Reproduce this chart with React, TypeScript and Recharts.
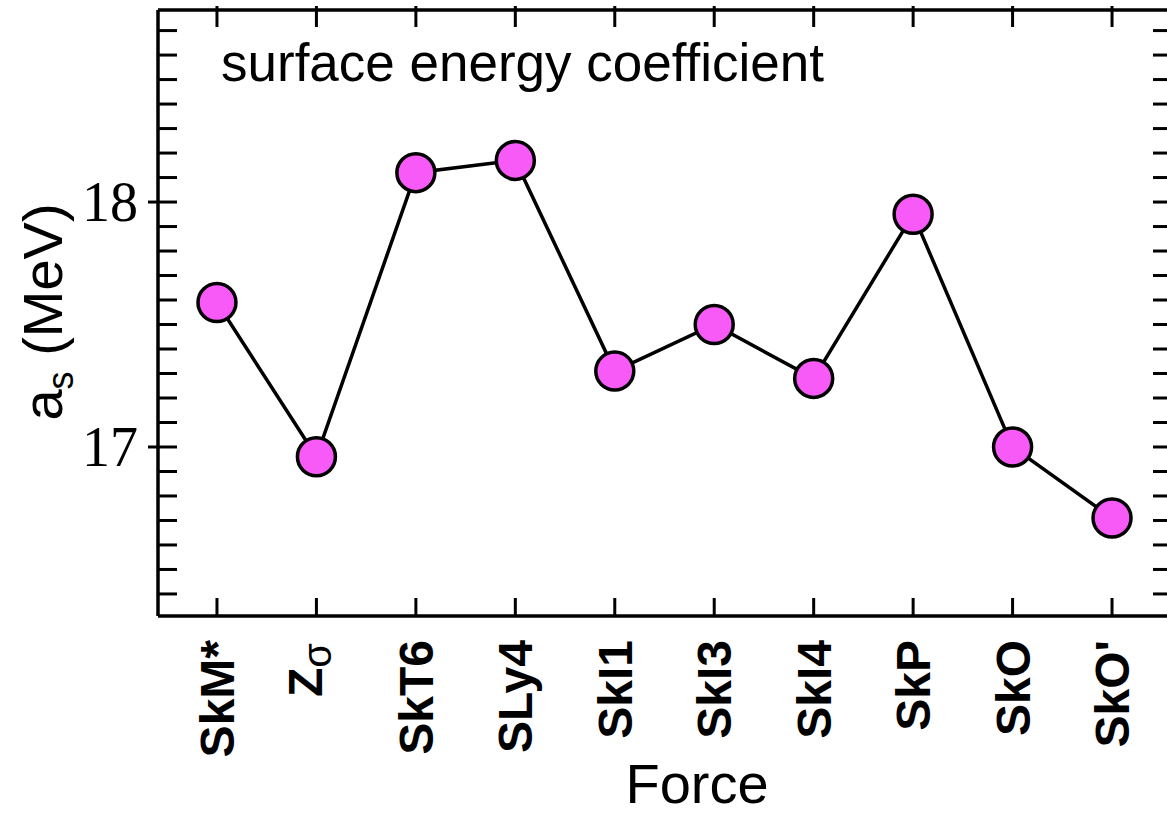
import React from "react";
import { LineChart, Line, XAxis, YAxis } from "recharts";

const forces = ["SkM*", "Zσ", "SkT6", "SLy4", "SkI1", "SkI3", "SkI4", "SkP", "SkO", "SkO'"];
const surfaceEnergy = [17.59, 16.96, 18.12, 18.17, 17.31, 17.5, 17.28, 17.95, 17.0, 16.71];
const xTicks = [0, 1, 2, 3, 4, 5, 6, 7, 8, 9];
const yTicks = [
  16.4, 16.5, 16.6, 16.7, 16.8, 16.9, 17, 17.1, 17.2, 17.3, 17.4, 17.5,
  17.6, 17.7, 17.8, 17.9, 18, 18.1, 18.2, 18.3, 18.4, 18.5, 18.6, 18.7,
];
const yLabels = [17, 18];

const data = forces.map((name, i) => ({ i, name, as: surfaceEnergy[i] }));

const sans = "'Liberation Sans', Arial, Helvetica, sans-serif";
const serif = "'Liberation Serif', 'Times New Roman', serif";

const BottomTick = (props: any) => {
  const { x, y, payload } = props;
  const name = forces[payload.value];
  return (
    <g>
      <line x1={x} y1={y} x2={x} y2={y - 18} stroke="#000" strokeWidth={3} />
      {name === "Zσ" ? (
        <text
          transform={`translate(${x + 6},${y + 27}) rotate(-90)`}
          textAnchor="end"
          fontFamily={sans}
          fontSize={48}
          fill="#000"
        >
          <tspan fontWeight="bold">Z</tspan>
          <tspan fontSize={40} dy={9}>σ</tspan>
        </text>
      ) : (
        <text
          transform={`translate(${x + 17},${y + 24}) rotate(-90)`}
          textAnchor="end"
          fontFamily={sans}
          fontWeight="bold"
          fontSize={48}
          fill="#000"
        >
          {name}
        </text>
      )}
    </g>
  );
};

const TopTick = (props: any) => {
  const { x, y } = props;
  return <line x1={x} y1={y - 4} x2={x} y2={y + 17} stroke="#000" strokeWidth={3} />;
};

const LeftTick = (props: any) => {
  const { x, y, payload } = props;
  return (
    <g>
      <line x1={x} y1={y} x2={x + 19} y2={y} stroke="#000" strokeWidth={3} />
      {yLabels.includes(payload.value) && (
        <>
          <line x1={x - 10} y1={y} x2={x} y2={y} stroke="#000" strokeWidth={3} />
          <text x={x - 20} y={y + 19} textAnchor="end" fontFamily={serif} fontSize={56} fill="#000">
            {payload.value}
          </text>
        </>
      )}
    </g>
  );
};

const RightTick = (props: any) => {
  const { x, y } = props;
  return <line x1={x} y1={y} x2={x - 18} y2={y} stroke="#000" strokeWidth={3} />;
};

const axisLine = { stroke: "#000", strokeWidth: 3.5 };

export default function App() {
  return (
    <div
      style={{
        position: "absolute",
        left: 0,
        top: 0,
        width: 1167,
        height: 817,
        overflow: "hidden",
        background: "#fff",
      }}
    >
      <LineChart
        width={1180}
        height={817}
        data={data}
        margin={{ top: 9, right: 8, left: 157, bottom: 200 }}
      >
        <XAxis
          xAxisId="bottom"
          type="number"
          dataKey="i"
          domain={[-0.593, 9.593]}
          ticks={xTicks}
          allowDataOverflow
          height={1}
          tickSize={0}
          tickMargin={0}
          axisLine={axisLine}
          tickLine={false}
          tick={<BottomTick />}
          interval={0}
        />
        <XAxis
          xAxisId="top"
          orientation="top"
          type="number"
          dataKey="i"
          domain={[-0.593, 9.593]}
          ticks={xTicks}
          allowDataOverflow
          height={1}
          tickSize={0}
          tickMargin={0}
          axisLine={axisLine}
          tickLine={false}
          tick={<TopTick />}
          interval={0}
        />
        <YAxis
          yAxisId="left"
          domain={[16.31, 18.784]}
          ticks={yTicks}
          allowDataOverflow
          width={1}
          tickSize={0}
          tickMargin={0}
          axisLine={axisLine}
          tickLine={false}
          tick={<LeftTick />}
          interval={0}
        />
        <YAxis
          yAxisId="right"
          orientation="right"
          domain={[16.31, 18.784]}
          ticks={yTicks}
          allowDataOverflow
          width={1}
          tickSize={0}
          tickMargin={0}
          axisLine={axisLine}
          tickLine={false}
          tick={<RightTick />}
          interval={0}
        />
        <Line
          xAxisId="top"
          yAxisId="right"
          dataKey="as"
          stroke="none"
          dot={false}
          activeDot={false}
          isAnimationActive={false}
        />
        <Line
          xAxisId="bottom"
          yAxisId="left"
          dataKey="as"
          stroke="#000"
          strokeWidth={3.5}
          dot={{ r: 19, fill: "#f85af8", stroke: "#000", strokeWidth: 3.5 }}
          activeDot={false}
          isAnimationActive={false}
        />
      </LineChart>
      <svg
        width={1167}
        height={817}
        style={{ position: "absolute", left: 0, top: 0, pointerEvents: "none" }}
      >
        <text x={221} y={81} fontFamily={sans} fontSize={53} fill="#000">
          surface energy coefficient
        </text>
        <text
          transform="translate(62,312) rotate(-90)"
          textAnchor="middle"
          fontFamily={sans}
          fontSize={56}
          fill="#000"
        >
          a<tspan fontSize={36} dy={11}>s</tspan>
          <tspan dy={-11}> (MeV)</tspan>
        </text>
        <text x={697} y={803} textAnchor="middle" fontFamily={sans} fontSize={56} fill="#000">
          Force
        </text>
      </svg>
    </div>
  );
}
